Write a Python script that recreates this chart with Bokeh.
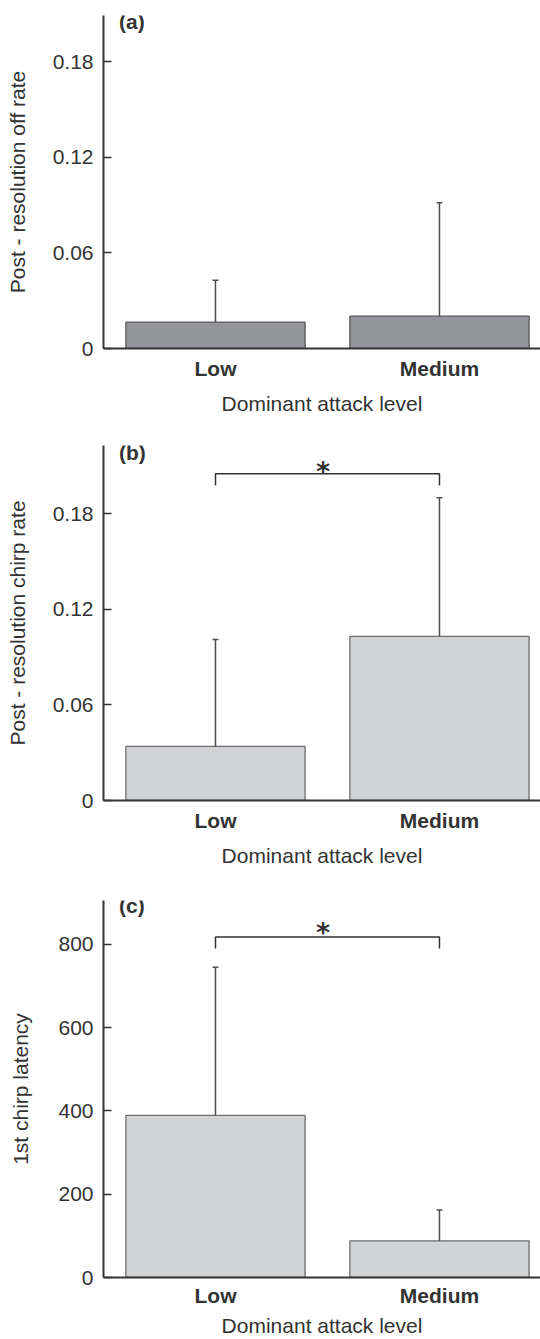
from bokeh.plotting import figure
from bokeh.layouts import column
from bokeh.models import Range1d, FixedTicker, Whisker, TeeHead, ColumnDataSource, Label
from bokeh.core.properties import value
from bokeh.embed import file_html
from bokeh.resources import INLINE

# ---- data ----
categories = ["Low", "Medium"]
off_rate_mean = [0.0165, 0.0203]
off_rate_se = [0.0263, 0.0712]
chirp_rate_mean = [0.034, 0.103]
chirp_rate_se = [0.067, 0.087]
latency_mean = [389, 88]
latency_se = [356, 74]
rate_ticks = [0, 0.06, 0.12, 0.18]
rate_tick_labels = ["0", "0.06", "0.12", "0.18"]
latency_ticks = [0, 200, 400, 600, 800]
latency_tick_labels = ["0", "200", "400", "600", "800"]

FONT = "Liberation Sans"
TXT = "#333333"
AX = "#333333"


def panel(tag, tag_y, ylabel, means, ses, yend, ticks, tick_labels, fill, line,
          height, mb_top, mb_bottom, sig=None, ylabel_standoff=21,
          xtick_standoff=8, xlabel_standoff=9):
    xs = [i + 0.5 for i in range(len(categories))]
    p = figure(width=540, height=height, x_range=Range1d(0, 1.951),
               y_range=Range1d(0, yend), output_backend="svg",
               toolbar_location=None, min_border_left=103, min_border_right=0,
               min_border_top=mb_top, min_border_bottom=mb_bottom)
    p.outline_line_color = None
    p.xgrid.visible = False
    p.ygrid.visible = False
    p.background_fill_color = "white"
    p.border_fill_color = "white"

    # x axis
    xa = p.xaxis[0]
    xa.ticker = FixedTicker(ticks=xs)
    xa.major_label_overrides = {x: c for x, c in zip(xs, categories)}
    xa.major_tick_in = 0
    xa.major_tick_out = 0
    xa.minor_tick_in = 0
    xa.minor_tick_out = 0
    xa.axis_line_color = AX
    xa.axis_line_width = 2
    xa.major_label_text_font = FONT
    xa.major_label_text_font_style = "bold"
    xa.major_label_text_font_size = "21px"
    xa.major_label_text_color = TXT
    xa.major_label_standoff = xtick_standoff
    xa.axis_label = "Dominant attack level"
    xa.axis_label_text_font = FONT
    xa.axis_label_text_font_style = "normal"
    xa.axis_label_text_font_size = "21px"
    xa.axis_label_text_color = TXT
    xa.axis_label_standoff = xlabel_standoff

    # y axis
    ya = p.yaxis[0]
    ya.ticker = FixedTicker(ticks=ticks)
    ya.major_label_overrides = {t: l for t, l in zip(ticks, tick_labels)}
    ya.major_tick_in = 8
    ya.major_tick_out = 0
    ya.minor_tick_in = 0
    ya.minor_tick_out = 0
    ya.major_tick_line_color = AX
    ya.major_tick_line_width = 1.5
    ya.axis_line_color = AX
    ya.axis_line_width = 2
    ya.major_label_text_font = FONT
    ya.major_label_text_font_size = "21px"
    ya.major_label_text_color = TXT
    ya.major_label_standoff = 10
    ya.axis_label = ylabel
    ya.axis_label_text_font = FONT
    ya.axis_label_text_font_style = "normal"
    ya.axis_label_text_font_size = "21px"
    ya.axis_label_text_color = TXT
    ya.axis_label_standoff = ylabel_standoff

    # bars
    p.vbar(x=xs, top=means, bottom=0, width=0.8, fill_color=fill,
           line_color=line, line_width=1.3)

    # error bars (upper only)
    src = ColumnDataSource(dict(x=xs, lower=means,
                                upper=[m + s for m, s in zip(means, ses)]))
    w = Whisker(source=src, base="x", lower="lower", upper="upper",
                dimension="height", line_color="#4d4d4d", line_width=1.5,
                lower_head=None,
                upper_head=TeeHead(size=6, line_color="#4d4d4d", line_width=1.5),
                level="overlay")
    p.add_layout(w)

    # significance bracket
    if sig is not None:
        lo, hi, star_y = sig
        p.line(x=[xs[0], xs[0], xs[1], xs[1]], y=[lo, hi, hi, lo],
               line_color=AX, line_width=1.5)
        p.text(x=[(xs[0] + xs[1]) / 2 - 0.02], y=[star_y], text=["*"],
               text_font=value("DejaVu Sans"), text_font_style="bold",
               text_font_size="27px", text_color=TXT,
               text_align="center", text_baseline="middle")

    p.add_layout(Label(x=0.069, y=tag_y, text=tag, text_font=FONT,
                       text_font_style="bold", text_font_size="21px",
                       text_color=TXT, text_align="left",
                       text_baseline="middle"))
    return p


pa = panel("(a)", 0.205, "Post - resolution off rate", off_rate_mean, off_rate_se,
           0.209, rate_ticks, rate_tick_labels, "#939598", "#58595b",
           437, 15, 89)
pb = panel("(b)", 0.2186, "Post - resolution chirp rate", chirp_rate_mean,
           chirp_rate_se, 0.2228, rate_ticks, rate_tick_labels, "#d1d3d4",
           "#6d6e71", 455, 8, 92, sig=(0.1977, 0.2051, 0.2065))
pc = panel("(c)", 893, "1st chirp latency", latency_mean, latency_se,
           905, latency_ticks, latency_tick_labels, "#d1d3d4", "#6d6e71",
           447, 8, 62, sig=(789.6, 817.4, 828), ylabel_standoff=23,
           xtick_standoff=6, xlabel_standoff=4)

layout = column(pa, pb, pc, spacing=0)
open("out.html", "w").write(file_html(layout, INLINE))
